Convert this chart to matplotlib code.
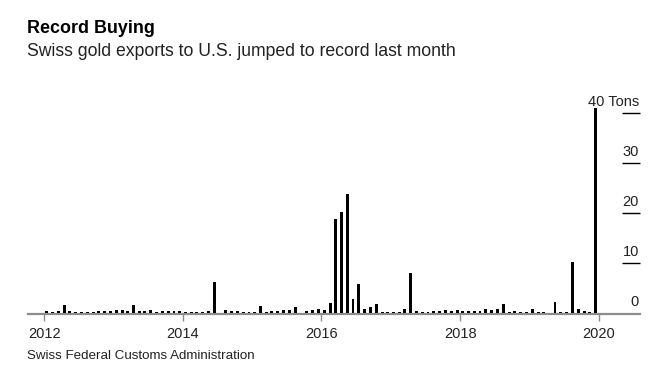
import matplotlib
matplotlib.use('Agg')
import matplotlib.pyplot as plt
import matplotlib.dates as mdates
import pandas as pd

plt.rcParams['font.family'] = ['Liberation Sans', 'DejaVu Sans']

# monthly Swiss gold exports to the U.S., tons (Jan 2012 - Dec 2019)
tons_2012 = [0.4, 0.3, 0.5, 1.7, 0.5, 0.2, 0.2, 0.2, 0.2, 0.5, 0.5, 0.5]
tons_2013 = [0.7, 0.7, 0.5, 1.7, 0.5, 0.5, 0.7, 0.3, 0.4, 0.4, 0.5, 0.4]
tons_2014 = [0.3, 0.2, 0.2, 0.2, 0.5, 6.3, 0.1, 0.7, 0.5, 0.5, 0.3, 0.2]
tons_2015 = [0.3, 1.5, 0.2, 0.4, 0.5, 0.7, 0.7, 1.2, 0.1, 0.5, 0.7, 0.9]
tons_2016 = [0.7, 2.1, 18.9, 20.3, 23.9, 2.8, 5.8, 0.8, 1.3, 1.8, 0.3, 0.3]
tons_2017 = [0.3, 0.3, 0.9, 8.0, 0.5, 0.2, 0.3, 0.4, 0.5, 0.6, 0.5, 0.6]
tons_2018 = [0.5, 0.4, 0.4, 0.4, 0.8, 0.7, 0.8, 1.9, 0.3, 0.5, 0.3, 0.3]
tons_2019 = [0.9, 0.3, 0.3, 0.1, 2.3, 0.3, 0.3, 10.3, 0.8, 0.5, 0.3, 41.0]
tons = (tons_2012 + tons_2013 + tons_2014 + tons_2015 +
        tons_2016 + tons_2017 + tons_2018 + tons_2019)
months = pd.date_range('2012-01-01', periods=len(tons), freq='MS') + pd.Timedelta(days=14)

y_ticks = [0, 10, 20, 30, 40]
y_labels = ['0', '10', '20', '30', '40 Tons']
x_years = [2012, 2014, 2016, 2018, 2020]

fig = plt.figure(figsize=(6.64, 3.85), dpi=100)
ax = fig.add_axes([0.0422, 0.187, 0.9217, 0.5844])

ax.bar(months, tons, width=15.5, color='black', zorder=3)

ax.set_xlim(pd.Timestamp('2011-10-08'), pd.Timestamp('2020-08-05'))
ax.set_ylim(0, 45)

for s in ['top', 'left', 'right']:
    ax.spines[s].set_visible(False)
ax.spines['bottom'].set_color('#8c8c8c')
ax.spines['bottom'].set_linewidth(1.6)
ax.spines['bottom'].set_zorder(1)
ax.spines['bottom'].set_position(('outward', 1))

ax.set_xticks([pd.Timestamp(f'{y}-01-01') for y in x_years])
ax.xaxis.set_major_formatter(mdates.DateFormatter('%Y'))
ax.tick_params(axis='x', direction='out', length=5, width=1, color='#8c8c8c',
               labelsize=10.5, labelcolor='#222222', pad=4)

ax.yaxis.tick_right()
ax.set_yticks(y_ticks[1:])
ax.set_yticklabels([])
ax.tick_params(axis='y', direction='in', length=13, width=1, color='black', pad=0)

ytrans = ax.get_yaxis_transform()
for v, lab in zip(y_ticks, y_labels):
    ax.text(0.998, v + 2.3, lab, transform=ytrans, ha='right', va='center',
            fontsize=10.5, color='#222222')

fig.text(0.040, 0.925, 'Record Buying', fontsize=12.9, fontweight='bold',
         ha='left', va='center', color='black')
fig.text(0.040, 0.866, 'Swiss gold exports to U.S. jumped to record last month',
         fontsize=12.7, ha='left', va='center', color='#222222')
fig.text(0.040, 0.075, 'Swiss Federal Customs Administration', fontsize=9.6,
         ha='left', va='center', color='#222222')

fig.savefig('out.png', dpi=100)
